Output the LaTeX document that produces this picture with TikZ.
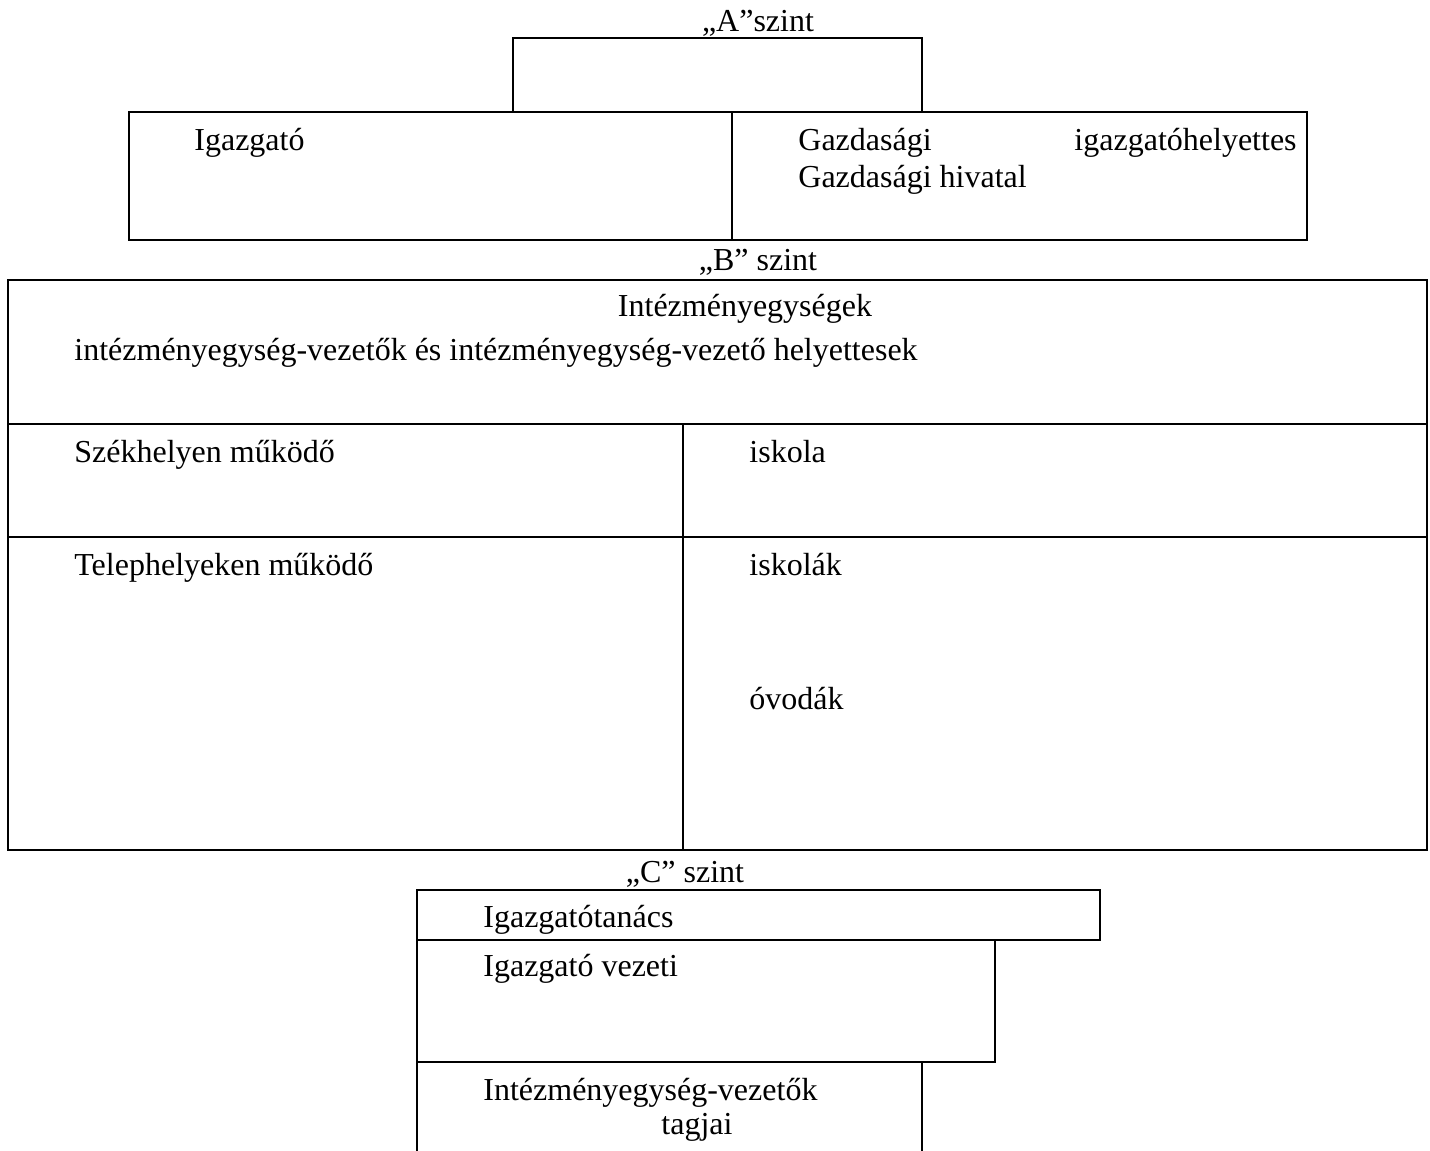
\documentclass[tikz,border=0pt]{standalone}
\usepackage{fontspec}
\setmainfont{Liberation Serif}
\begin{document}
\begin{tikzpicture}[x=0.5pt,y=-0.5pt,
  frame/.style={draw=black,line width=1.4pt},
  inner/.style={draw=black,line width=1pt},
  txt/.style={anchor=base west,inner sep=0pt,font=\fontsize{16}{19}\selectfont},
  etxt/.style={anchor=base east,inner sep=0pt,font=\fontsize{16}{19}\selectfont},
  ctxt/.style={anchor=base,inner sep=0pt,font=\fontsize{16}{19}\selectfont}]
\useasboundingbox (0,0) rectangle (1430,1151);
% A level
\node[ctxt] (labA) at (758,32) {„A”szint};
\draw[frame] (513,112) |- (922,38) -- (922,112);
\draw[frame] (129,112) rectangle (1307,240);
\draw[inner] (732,112) -- (732,240);
\node[txt] (igazgato) at (194,150) {Igazgató};
\node[txt] (gazd1) at (798,150) {Gazdasági};
\node[etxt] (gazd2) at (1297,150) {igazgatóhelyettes};
\node[txt] (gazd3) at (798,187) {Gazdasági hivatal};
% B level
\node[ctxt] (labB) at (758,270) {„B” szint};
\draw[frame] (8,280) rectangle (1427,850);
\draw[frame] (8,424) -- (1427,424);
\draw[inner] (8,537) -- (1427,537);
\draw[inner] (683,424) -- (683,850);
\node[ctxt] (intezm) at (745,316) {Intézményegységek};
\node[txt] (vez) at (74,360) {intézményegység-vezetők és intézményegység-vezető helyettesek};
\node[txt] (szek) at (74,462) {Székhelyen működő};
\node[txt] (isk) at (749,462) {iskola};
\node[txt] (tel) at (74,575) {Telephelyeken működő};
\node[txt] (iskk) at (749,575) {iskolák};
\node[txt] (ovo) at (749,709) {óvodák};
% C level
\node[ctxt] (labC) at (685,882) {„C” szint};
\draw[frame] (417,890) rectangle (1100,940);
\draw[frame] (417,940) -- (417,1160);
\draw[inner] (417,1062) -| (995,940);
\draw[inner] (922,1062) -- (922,1160);
\node[txt] (it) at (483,927) {Igazgatótanács};
\node[txt] (iv) at (483,976) {Igazgató vezeti};
\node[txt] (iev) at (483,1100) {Intézményegység-vezetők};
\node[ctxt] (tag) at (697,1134) {tagjai};
\end{tikzpicture}
\end{document}
